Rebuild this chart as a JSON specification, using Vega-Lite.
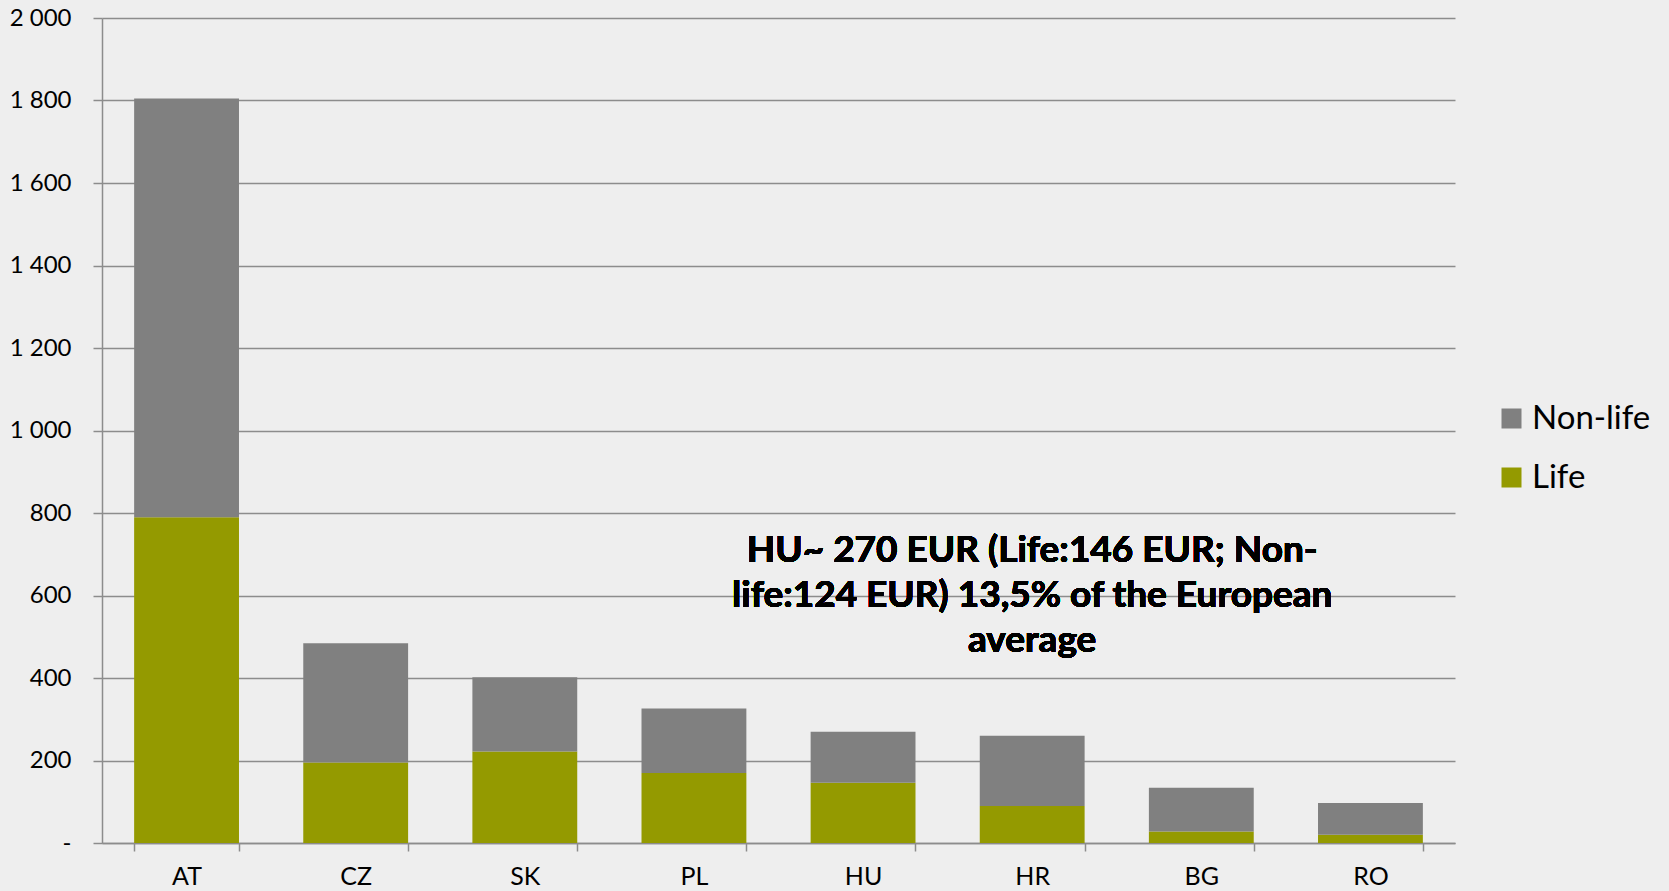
{
  "$schema": "https://vega.github.io/schema/vega-lite/v6.json",
  "width": 1353,
  "height": 825,
  "autosize": {"type": "none"},
  "padding": {"left": 102, "top": 18, "right": 214, "bottom": 48},
  "background": "#eeeeee",
  "config": {
    "font": "Lato",
    "view": {"stroke": null},
    "axis": {"labelColor": "#000000", "labelFont": "Lato", "domainColor": "#8c8c8c", "tickColor": "#8c8c8c", "domainWidth": 1.5, "tickWidth": 1.5}
  },
  "data": {
    "values": [
      {"country": "AT", "type": "Life", "value": 790},
      {"country": "AT", "type": "Non-life", "value": 1015},
      {"country": "CZ", "type": "Life", "value": 195},
      {"country": "CZ", "type": "Non-life", "value": 289},
      {"country": "SK", "type": "Life", "value": 222},
      {"country": "SK", "type": "Non-life", "value": 180},
      {"country": "PL", "type": "Life", "value": 170},
      {"country": "PL", "type": "Non-life", "value": 156},
      {"country": "HU", "type": "Life", "value": 146},
      {"country": "HU", "type": "Non-life", "value": 124},
      {"country": "HR", "type": "Life", "value": 90},
      {"country": "HR", "type": "Non-life", "value": 170},
      {"country": "BG", "type": "Life", "value": 28},
      {"country": "BG", "type": "Non-life", "value": 106},
      {"country": "RO", "type": "Life", "value": 20},
      {"country": "RO", "type": "Non-life", "value": 77}
    ]
  },
  "layer": [
    {
      "mark": {"type": "bar"},
      "encoding": {
        "x": {
          "field": "country",
          "type": "nominal",
          "sort": ["AT", "CZ", "SK", "PL", "HU", "HR", "BG", "RO"],
          "scale": {"paddingInner": 0.38, "paddingOuter": 0.19},
          "axis": {"title": null, "labelAngle": 0, "labelFontSize": 25, "tickSize": 8, "tickBand": "extent", "labelPadding": 13, "domainColor": "#8c8c8c"}
        },
        "y": {
          "field": "value",
          "type": "quantitative",
          "aggregate": "sum",
          "stack": "zero",
          "scale": {"domain": [0, 2000], "nice": false},
          "axis": {
            "title": null,
            "values": [0, 200, 400, 600, 800, 1000, 1200, 1400, 1600, 1800, 2000],
            "labelExpr": "datum.value == 0 ? '-' : replace(format(datum.value, ','), ',', ' ')",
            "labelFontSize": 24,
            "tickSize": 9,
            "labelPadding": 22,
            "grid": true,
            "gridColor": "#8c8c8c",
            "gridWidth": 1.5
          }
        },
        "color": {
          "field": "type",
          "type": "nominal",
          "scale": {"domain": ["Non-life", "Life"], "range": ["#808080", "#949a00"]},
          "legend": {
            "title": null,
            "orient": "none",
            "legendX": 1393,
            "legendY": 384,
            "symbolType": "square",
            "symbolSize": 400,
            "symbolStrokeWidth": 0,
            "labelFontSize": 33,
            "labelFont": "Lato",
            "labelColor": "#000000",
            "rowPadding": 25,
            "labelOffset": 4
          }
        },
        "order": {"field": "type", "sort": "ascending"}
      }
    },
    {
      "mark": {
        "type": "text",
        "text": ["HU~ 270 EUR (Life:146 EUR; Non-", "life:124 EUR) 13,5% of the European", "average"],
        "font": "Lato",
        "fontWeight": "bold",
        "fontSize": 37,
        "lineHeight": 45,
        "align": "center",
        "baseline": "middle",
        "color": "#000000"
      },
      "encoding": {
        "x": {"datum": "HR", "type": "nominal"},
        "y": {"datum": 708, "type": "quantitative"}
      }
    }
  ]
}
